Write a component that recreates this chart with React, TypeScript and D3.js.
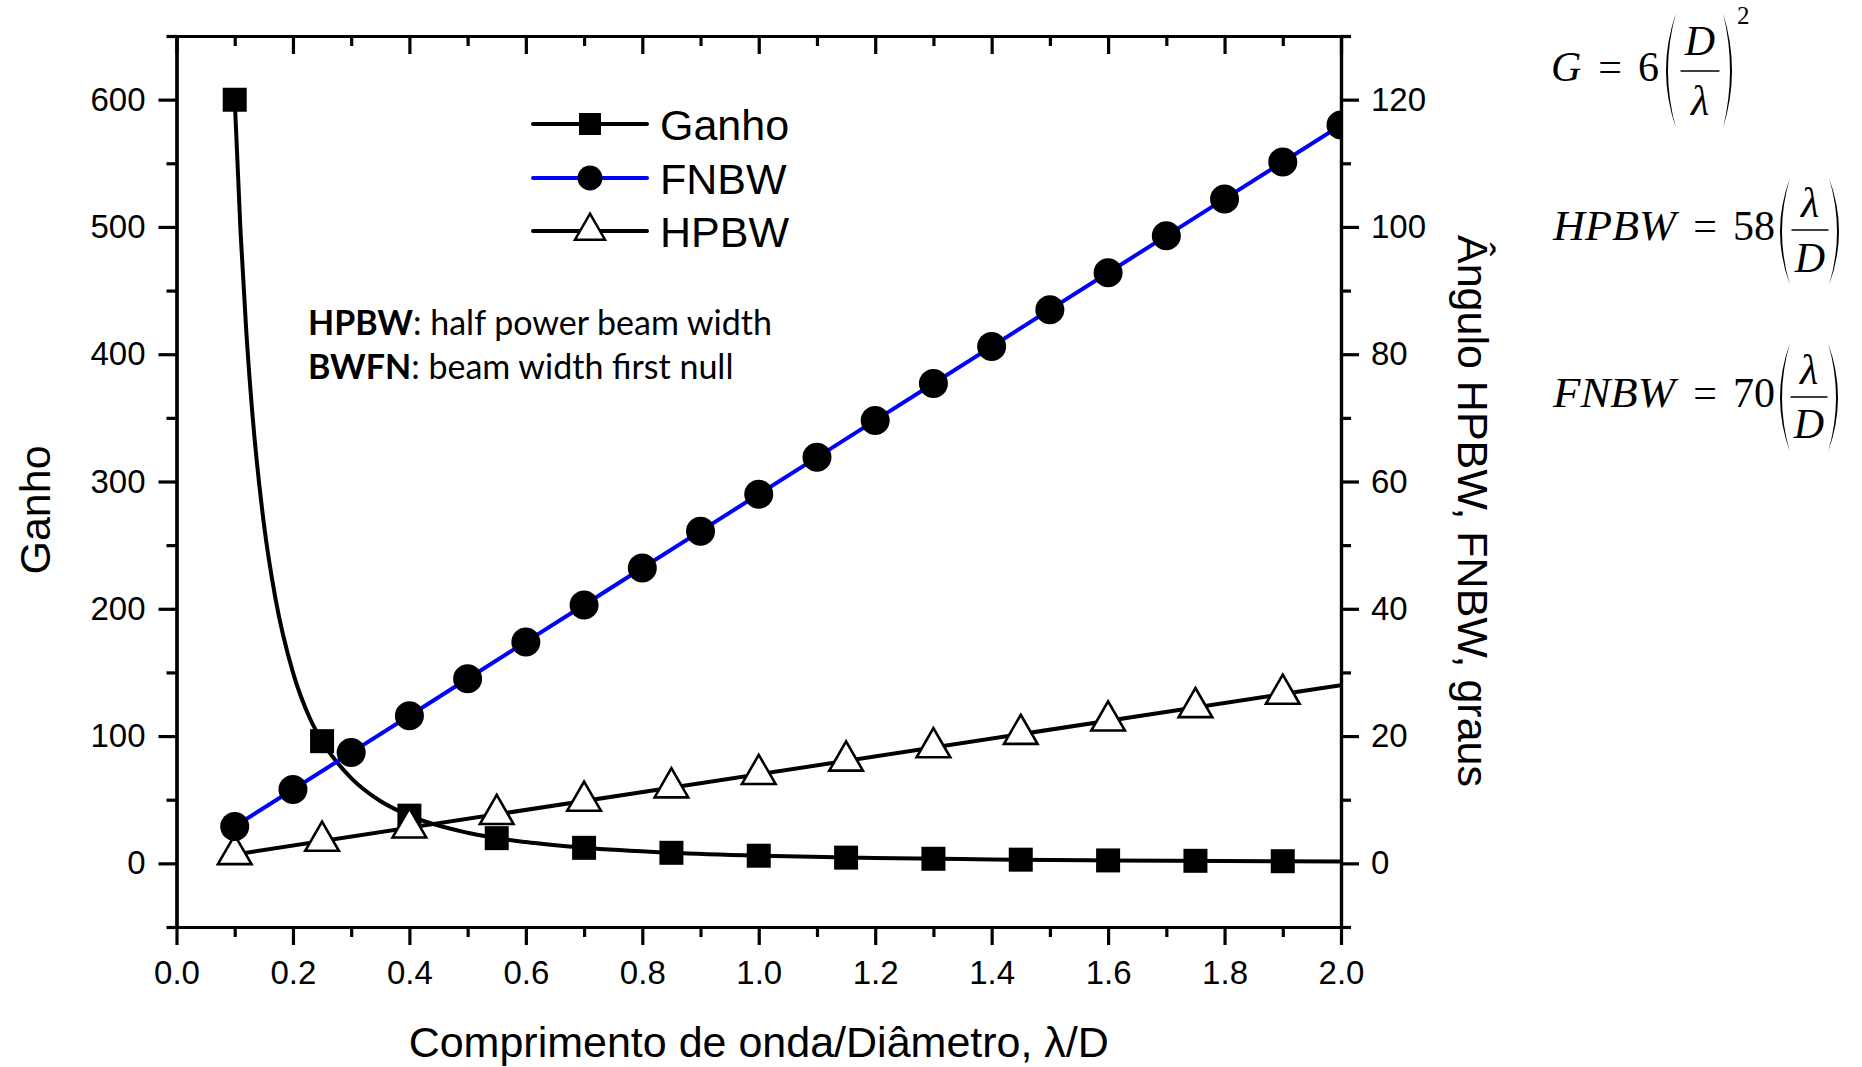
import React, { useEffect, useRef } from "react";
import * as d3 from "d3";

// Ganho (left axis): markers and the drawn curve
const ganhoX = [0.1, 0.25, 0.4, 0.55, 0.7, 0.85, 1.0, 1.15, 1.3, 1.45, 1.6, 1.75, 1.9];
const ganhoY = [600, 96, 37.5, 19.8, 12.2, 8.3, 6.0, 4.5, 3.6, 2.9, 2.3, 2.0, 1.7];
const ganhoCurveX = [0.1, 0.11, 0.12, 0.13, 0.15, 0.17, 0.2, 0.23, 0.25, 0.3, 0.35, 0.4, 0.5, 0.6, 0.7, 0.85, 1.0, 1.2, 1.4, 1.6, 1.8, 2.0];
const ganhoCurveY = [600, 496, 417, 355, 267, 208, 150, 113, 96, 67, 49, 37.5, 24, 16.7, 12.2, 8.3, 6.0, 4.2, 3.1, 2.3, 1.9, 1.5];

// FNBW (right axis, graus)
const fnbwX = [0.1, 0.2, 0.3, 0.4, 0.5, 0.6, 0.7, 0.8, 0.9, 1.0, 1.1, 1.2, 1.3, 1.4, 1.5, 1.6, 1.7, 1.8, 1.9, 2.0];
const fnbwY = [5.8, 11.6, 17.4, 23.2, 29.0, 34.8, 40.6, 46.4, 52.2, 58.0, 63.8, 69.6, 75.4, 81.2, 87.0, 92.8, 98.6, 104.4, 110.2, 116.0];

// HPBW (right axis, graus)
const hpbwX = [0.1, 0.25, 0.4, 0.55, 0.7, 0.85, 1.0, 1.15, 1.3, 1.45, 1.6, 1.75, 1.9];
const hpbwY = [1.4, 3.5, 5.6, 7.7, 9.8, 11.9, 14.0, 16.1, 18.2, 20.3, 22.4, 24.5, 26.6];
const hpbwLineX = [0.1, 1.9, 2.0];
const hpbwLineY = [1.4, 26.6, 28.0];

const xMajor = [0, 0.2, 0.4, 0.6, 0.8, 1.0, 1.2, 1.4, 1.6, 1.8, 2.0];
const xMinor = [0.1, 0.3, 0.5, 0.7, 0.9, 1.1, 1.3, 1.5, 1.7, 1.9];
const yLeftMajor = [0, 100, 200, 300, 400, 500, 600];
const yLeftMinor = [-50, 50, 150, 250, 350, 450, 550, 650];
const yRightMajor = [0, 20, 40, 60, 80, 100, 120];
const yRightMinor = [-10, 10, 30, 50, 70, 90, 110, 130];

const legendItems = ["Ganho", "FNBW", "HPBW"];

const SANS = "'Liberation Sans', Arial, sans-serif";
const SERIF = "'Liberation Serif', 'Times New Roman', serif";

function App() {
  const ref = useRef<SVGSVGElement>(null);

  useEffect(() => {
    const svg = d3.select(ref.current);
    svg.selectAll("*").remove();

    const left = 176.5, right = 1341, top = 36, bottom = 927;
    const x = d3.scaleLinear().domain([0, 2]).range([left, right]);
    const yL = d3.scaleLinear().domain([-50, 650]).range([bottom, top]);
    const yR = d3.scaleLinear().domain([-10, 130]).range([bottom, top]);

    svg
      .append("clipPath")
      .attr("id", "plot-clip")
      .append("rect")
      .attr("x", left)
      .attr("y", top)
      .attr("width", right - left)
      .attr("height", bottom - top);

    const plot = svg.append("g").attr("clip-path", "url(#plot-clip)");
    const lw = 4;

    // Ganho curve + squares
    const ganhoLine = d3
      .line<number>()
      .x((d) => x(d))
      .y((_, i) => yL(ganhoCurveY[i]))
      .curve(d3.curveMonotoneX);
    plot
      .append("path")
      .attr("d", ganhoLine(ganhoCurveX))
      .attr("fill", "none")
      .attr("stroke", "#000")
      .attr("stroke-width", lw);
    plot
      .selectAll(".sq")
      .data(ganhoX)
      .enter()
      .append("path")
      .attr("d", d3.symbol(d3.symbolSquare, 576)())
      .attr("transform", (d, i) => `translate(${x(d)},${yL(ganhoY[i])})`)
      .attr("fill", "#000");

    // HPBW line + triangles
    const hpbwLine = d3
      .line<number>()
      .x((d) => x(d))
      .y((_, i) => yR(hpbwLineY[i]));
    plot
      .append("path")
      .attr("d", hpbwLine(hpbwLineX))
      .attr("fill", "none")
      .attr("stroke", "#000")
      .attr("stroke-width", lw);
    plot
      .selectAll(".tri")
      .data(hpbwX)
      .enter()
      .append("path")
      .attr("d", d3.symbol(d3.symbolTriangle, 490)())
      .attr("transform", (d, i) => `translate(${x(d)},${yR(hpbwY[i])})`)
      .attr("fill", "#fff")
      .attr("stroke", "#000")
      .attr("stroke-width", 2.6);

    // FNBW line + circles
    const fnbwLine = d3
      .line<number>()
      .x((d) => x(d))
      .y((_, i) => yR(fnbwY[i]));
    plot
      .append("path")
      .attr("d", fnbwLine(fnbwX))
      .attr("fill", "none")
      .attr("stroke", "#0000ff")
      .attr("stroke-width", lw);
    plot
      .selectAll(".circ")
      .data(fnbwX)
      .enter()
      .append("circle")
      .attr("cx", (d) => x(d))
      .attr("cy", (_, i) => yR(fnbwY[i]))
      .attr("r", 14.5)
      .attr("fill", "#000");

    // axes
    const styleAxis = (g: any) => {
      g.select(".domain").attr("stroke-width", 3.2).attr("stroke-linecap", "square");
      g.selectAll(".tick line").attr("stroke-width", 3.2);
      g.selectAll("text").attr("font-size", 33).attr("font-family", SANS).attr("fill", "#000");
    };
    const none = () => "";

    svg.append("g").attr("transform", `translate(0,${bottom})`)
      .call(d3.axisBottom(x).tickValues(xMinor).tickSize(10).tickSizeOuter(0).tickFormat(none)).call(styleAxis);
    svg.append("g").attr("transform", `translate(0,${bottom})`)
      .call(d3.axisBottom(x).tickValues(xMajor).tickSize(18).tickSizeOuter(0).tickPadding(16).tickFormat(d3.format(".1f")))
      .call(styleAxis);

    svg.append("g").attr("transform", `translate(0,${top})`)
      .call(d3.axisTop(x).tickValues(xMinor).tickSize(-10).tickSizeOuter(0).tickFormat(none)).call(styleAxis);
    svg.append("g").attr("transform", `translate(0,${top})`)
      .call(d3.axisTop(x).tickValues(xMajor).tickSize(-18).tickSizeOuter(0).tickFormat(none)).call(styleAxis);

    svg.append("g").attr("transform", `translate(${left},0)`)
      .call(d3.axisLeft(yL).tickValues(yLeftMinor).tickSize(10).tickSizeOuter(0).tickFormat(none)).call(styleAxis);
    svg.append("g").attr("transform", `translate(${left},0)`)
      .call(d3.axisLeft(yL).tickValues(yLeftMajor).tickSize(18).tickSizeOuter(0).tickPadding(13).tickFormat(d3.format("d")))
      .call(styleAxis);

    svg.append("g").attr("transform", `translate(${right},0)`)
      .call(d3.axisRight(yR).tickValues(yRightMinor).tickSize(10).tickSizeOuter(0).tickFormat(none)).call(styleAxis);
    svg.append("g").attr("transform", `translate(${right},0)`)
      .call(d3.axisRight(yR).tickValues(yRightMajor).tickSize(18).tickSizeOuter(0).tickPadding(12).tickFormat(d3.format("d")))
      .call(styleAxis);

    // axis titles
    svg.append("text")
      .attr("transform", "translate(50,510) rotate(-90)")
      .attr("text-anchor", "middle")
      .attr("font-family", SANS)
      .attr("font-size", 43)
      .text("Ganho");
    svg.append("text")
      .attr("transform", "translate(1458,511) rotate(90)")
      .attr("text-anchor", "middle")
      .attr("font-family", SANS)
      .attr("font-size", 43)
      .text("Ângulo HPBW, FNBW, graus");
    svg.append("text")
      .attr("x", (left + right) / 2)
      .attr("y", 1057)
      .attr("text-anchor", "middle")
      .attr("font-family", SANS)
      .attr("font-size", 43)
      .text("Comprimento de onda/Diâmetro, λ/D");

    // legend
    const legendRows = [124, 178, 231];
    const legendColors = ["#000", "#0000ff", "#000"];
    legendItems.forEach((name, i) => {
      const g = svg.append("g").attr("transform", `translate(0,${legendRows[i]})`);
      g.append("line").attr("x1", 533).attr("x2", 647).attr("stroke", legendColors[i])
        .attr("stroke-width", lw).attr("stroke-linecap", "round");
      if (i === 0) {
        g.append("path").attr("d", d3.symbol(d3.symbolSquare, 484)()).attr("transform", "translate(590,0)");
      } else if (i === 1) {
        g.append("circle").attr("cx", 590).attr("r", 12.5).attr("fill", "#000");
      } else {
        g.append("path").attr("d", d3.symbol(d3.symbolTriangle, 390)()).attr("transform", "translate(590,0)")
          .attr("fill", "#fff").attr("stroke", "#000").attr("stroke-width", 2.5);
      }
      g.append("text").attr("x", 660).attr("y", 16).attr("font-family", SANS).attr("font-size", 43).text(name);
    });

    // annotation
    const notes = [
      ["HPBW", ": half power beam width"],
      ["BWFN", ": beam width first null"],
    ];
    notes.forEach(([b, rest], i) => {
      const t = svg.append("text").attr("x", 308).attr("y", 335 + i * 44)
        .attr("font-family", "Lato, 'Open Sans', sans-serif").attr("font-size", 34);
      t.append("tspan").attr("font-weight", "bold").text(b);
      t.append("tspan").text(rest);
    });

    // formulas
    const f = svg.append("g").attr("font-family", SERIF).attr("font-size", 42).attr("fill", "#000");
    const paren = (xEnd: number, xMid: number, y0: number, y1: number) => {
      const ym = (y0 + y1) / 2;
      const dir = xMid < xEnd ? -1 : 1;
      const outer = 2 * xMid - xEnd;
      const inner = outer - dir * 4;
      f.append("path")
        .attr("d", `M${xEnd},${y0} Q${outer},${ym} ${xEnd},${y1} Q${inner},${ym} ${xEnd},${y0} Z`)
        .attr("fill", "#000");
    };
    const frac = (cx: number, barY: number, w: number, num: string, numBase: number, den: string, denBase: number) => {
      f.append("line").attr("x1", cx - w / 2).attr("x2", cx + w / 2).attr("y1", barY).attr("y2", barY)
        .attr("stroke", "#000").attr("stroke-width", 1.6);
      f.append("text").attr("x", cx).attr("y", numBase).attr("text-anchor", "middle").attr("font-style", "italic").text(num);
      f.append("text").attr("x", cx).attr("y", denBase).attr("text-anchor", "middle").attr("font-style", "italic").text(den);
    };

    // G = 6 (D/λ)^2
    f.append("text").attr("x", 1551).attr("y", 81).attr("font-style", "italic").text("G");
    f.append("text").attr("x", 1610).attr("y", 81).attr("text-anchor", "middle").text("=");
    f.append("text").attr("x", 1638).attr("y", 81).text("6");
    paren(1676, 1666, 13, 128);
    frac(1700, 71, 39, "D", 55, "λ", 115);
    paren(1723, 1732, 13, 128);
    f.append("text").attr("x", 1737).attr("y", 24).attr("font-size", 25).text("2");

    // HPBW = 58 (λ/D)
    f.append("text").attr("x", 1553).attr("y", 240).attr("font-style", "italic")
      .attr("textLength", 123).attr("lengthAdjust", "spacingAndGlyphs").text("HPBW");
    f.append("text").attr("x", 1705).attr("y", 240).attr("text-anchor", "middle").text("=");
    f.append("text").attr("x", 1733).attr("y", 240).text("58");
    paren(1790, 1780, 178, 285);
    frac(1810, 230, 37, "λ", 217, "D", 272);
    paren(1829, 1839, 178, 285);

    // FNBW = 70 (λ/D)
    f.append("text").attr("x", 1553).attr("y", 407).attr("font-style", "italic")
      .attr("textLength", 122).attr("lengthAdjust", "spacingAndGlyphs").text("FNBW");
    f.append("text").attr("x", 1705).attr("y", 407).attr("text-anchor", "middle").text("=");
    f.append("text").attr("x", 1733).attr("y", 407).text("70");
    paren(1790, 1780, 343, 452);
    frac(1809, 397, 37, "λ", 384, "D", 438);
    paren(1828, 1838, 343, 452);
  }, []);

  return (
    <svg
      ref={ref}
      width={1862}
      height={1067}
      style={{ position: "absolute", left: 0, top: 0, background: "#fff" }}
    />
  );
}

export default App;
